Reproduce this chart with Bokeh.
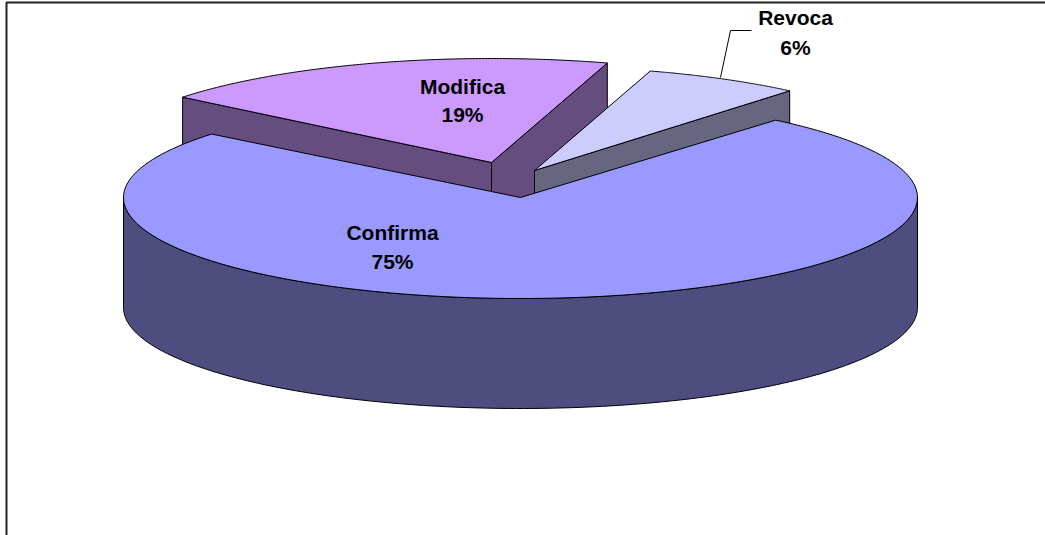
import numpy as np
from bokeh.plotting import figure
from bokeh.core.properties import value
from bokeh.embed import file_html
from bokeh.resources import INLINE

categories = ["Confirma", "Modifica", "Revoca"]
shares = [74.7, 18.9, 6.4]
top_colors = ["#9999FF", "#CC99FF", "#CCCCFF"]
side_colors = ["#4D4D80", "#664D80", "#666680"]

W, H = 1045, 535
A, DEPTH = 397.0, 110.0
START = 40.0
semi_minor = {"Confirma": 101.0, "Modifica": 104.0, "Revoca": 104.0}
apex = {"Confirma": (520.0, 197.0), "Modifica": (491.0, 162.0), "Revoca": (534.0, 170.0)}
label_pos = {"Confirma": (392, 232, 261), "Modifica": (462, 86, 114), "Revoca": (795, 17, 47)}

p = figure(width=W, height=H, x_range=(0, W), y_range=(H, 0), output_backend="svg",
           toolbar_location=None, min_border=0, outline_line_color=None)
p.axis.visible = False
p.grid.visible = False

# chart-area border (top and left only are in the frame)
p.line([6, 6, W], [H, 2, 2], line_color="#222222", line_width=2)


def arc(name, a0, a1, n=160):
    cx, cy = apex[name]
    t = np.radians(np.linspace(a0, a1, n))
    return cx + A * np.sin(t), cy - semi_minor[name] * np.cos(t)


spans = {}
a = START
for c, s in zip(categories, shares):
    spans[c] = (a, a + s * 3.6)
    a += s * 3.6

style = dict(line_color="black", line_width=1, line_join="round")


def cut_face(name, angle, color):
    cx, cy = apex[name]
    x, y = arc(name, angle, angle, 1)
    p.patch([cx, x[0], x[0], cx], [cy, y[0], y[0] + DEPTH, cy + DEPTH], fill_color=color, **style)


def top_face(name, color):
    cx, cy = apex[name]
    x, y = arc(name, *spans[name])
    p.patch(np.r_[cx, x], np.r_[cy, y], fill_color=color, **style)


# back slices first, the large slice last
cut_face("Modifica", spans["Modifica"][0], side_colors[1])
cut_face("Modifica", spans["Modifica"][1], side_colors[1])
top_face("Modifica", top_colors[1])

cut_face("Revoca", spans["Revoca"][1], side_colors[2])
top_face("Revoca", top_colors[2])

x, y = arc("Confirma", 90, 270)
p.patch(np.r_[x, x[::-1]], np.r_[y, y[::-1] + DEPTH], fill_color=side_colors[0], **style)
top_face("Confirma", top_colors[0])

# leader line of the Revoca label
p.line([751, 730, 720], [30, 30, 77], line_color="black", line_width=1)

for c, s in zip(categories, shares):
    lx, y1, y2 = label_pos[c]
    for txt, yy in ((c, y1), (f"{round(s)}%", y2)):
        p.text([lx], [yy], text=[txt], text_font=value("Liberation Sans"), text_font_style="bold",
               text_font_size="21px", text_color="black", text_align="center", text_baseline="middle")

open("out.html", "w").write(file_html(p, INLINE))
